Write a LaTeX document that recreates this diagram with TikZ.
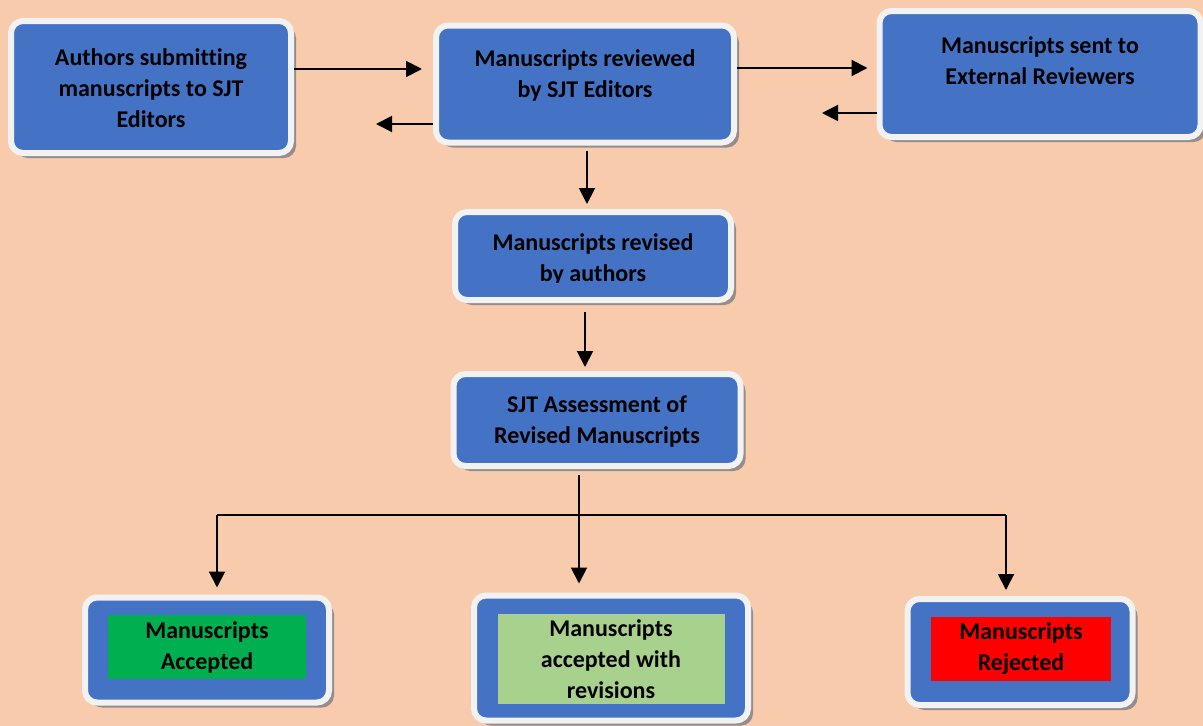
\documentclass[tikz,border=0pt]{standalone}
\usepackage{fontspec}
\setmainfont[Ligatures=NoCommon]{Carlito}
\usetikzlibrary{arrows.meta,shadows}
\definecolor{peach}{HTML}{F8CBAD}
\definecolor{boxblue}{HTML}{4472C4}
\definecolor{rimwhite}{HTML}{F2F2F2}
\definecolor{shadowgray}{HTML}{978C8C}
\definecolor{okgreen}{HTML}{00B050}
\definecolor{revgreen}{HTML}{A9D18E}
\definecolor{nored}{HTML}{FF0000}

\begin{document}
\begin{tikzpicture}[x=1pt,y=-1pt,
    flowbox/.style={rectangle,rounded corners=12pt,fill=boxblue,draw=rimwhite,line width=6pt,
        drop shadow={shadow xshift=5pt,shadow yshift=-5pt,fill=shadowgray,opacity=1}},
    flowtext/.style={align=center,inner sep=0pt,font=\bfseries\fontsize{24}{31}\selectfont},
    flowarrow/.style={-{Triangle[length=16pt,width=16pt]},line width=2pt}]
        \fill[peach] (0,0) rectangle (1203,726);
        \useasboundingbox (0,0) rectangle (1203,726);
        % --- Top row ---
        \node[flowbox,minimum width=280pt,minimum height=132pt] (authors) at (151,87) {};
        \node[flowtext] (authorstxt) at (151,88) {Authors submitting\\manuscripts to SJT\\Editors};
        \node[flowbox,minimum width=298pt,minimum height=117pt] (review) at (585,84) {};
        \node[flowtext] (reviewtxt) at (585,75) {Manuscripts reviewed\\by SJT Editors};
        \node[flowbox,minimum width=321pt,minimum height=126pt] (external) at (1040,74) {};
        \node[flowtext] (externaltxt) at (1040,61) {Manuscripts sent to\\External Reviewers};
        \coordinate (backA) at (376,124);
        \coordinate (backB) at (822,113);
        \draw[flowarrow,shorten >=11pt] ([yshift=18pt]authors.east) -- ([yshift=18pt]authors.east -| review.west);
        \draw[flowarrow] ([yshift=-40pt]review.west) -- (backA);
        \draw[flowarrow,shorten >=9pt] ([yshift=16pt]review.east) -- ([yshift=16pt]review.east -| external.west);
        \draw[flowarrow] ([yshift=-39pt]external.west) -- (backB);
        % --- Middle column ---
        \node[flowbox,minimum width=276pt,minimum height=88pt] (revised) at (593,256) {};
        \begin{scope}
            \clip (450,200) rectangle (740,282);
            \node[flowtext] (revisedtxt) at (593,259) {Manuscripts revised\\by authors};
        \end{scope}
        \node[flowbox,minimum width=287pt,minimum height=92pt] (assess) at (597,420) {};
        \node[flowtext] (assesstxt) at (597,422) {SJT Assessment of\\Revised Manuscripts};
        \draw[flowarrow,shorten <=5pt,shorten >=5pt] ([xshift=2pt]review.south) -- ([xshift=2pt]review.south |- revised.north);
        \draw[flowarrow,shorten <=9pt,shorten >=4pt] (revised.south -| review.south) -- (review.south |- assess.north);
        % --- Decisions ---
        \node[flowbox,minimum width=244pt,minimum height=105pt] (accepted) at (207,650) {};
        \node[flowtext,fill=okgreen,minimum width=198pt,minimum height=64pt] (acceptedtxt) at (207,647) {Manuscripts\\Accepted};
        \node[flowbox,minimum width=274pt,minimum height=125pt] (withrev) at (611,658) {};
        \node[flowtext,fill=revgreen,minimum width=227pt,minimum height=90pt] (withrevtxt) at (611,659) {Manuscripts\\accepted with\\revisions};
        \node[flowbox,minimum width=225pt,minimum height=106pt] (rejected) at (1020,652) {};
        \node[flowtext,fill=nored,minimum width=180pt,minimum height=64pt] (rejectedtxt) at (1021,649) {Manuscripts\\Rejected};
        \coordinate (fork) at (579,514);
        \coordinate (forkL) at (217,515);
        \coordinate (forkR) at (1006,515);
        \draw[line width=1.5pt,shorten <=6pt] (assess.south -| fork) -- (fork);
        \draw[line width=2pt] (forkL) -- (forkR);
        \draw[flowarrow,shorten >=7pt] (forkL) -- (forkL |- accepted.north);
        \draw[flowarrow,shorten >=9pt] (fork) -- (fork |- withrev.north);
        \draw[flowarrow,shorten >=6pt] (forkR) -- (forkR |- rejected.north);
\end{tikzpicture}
\end{document}
